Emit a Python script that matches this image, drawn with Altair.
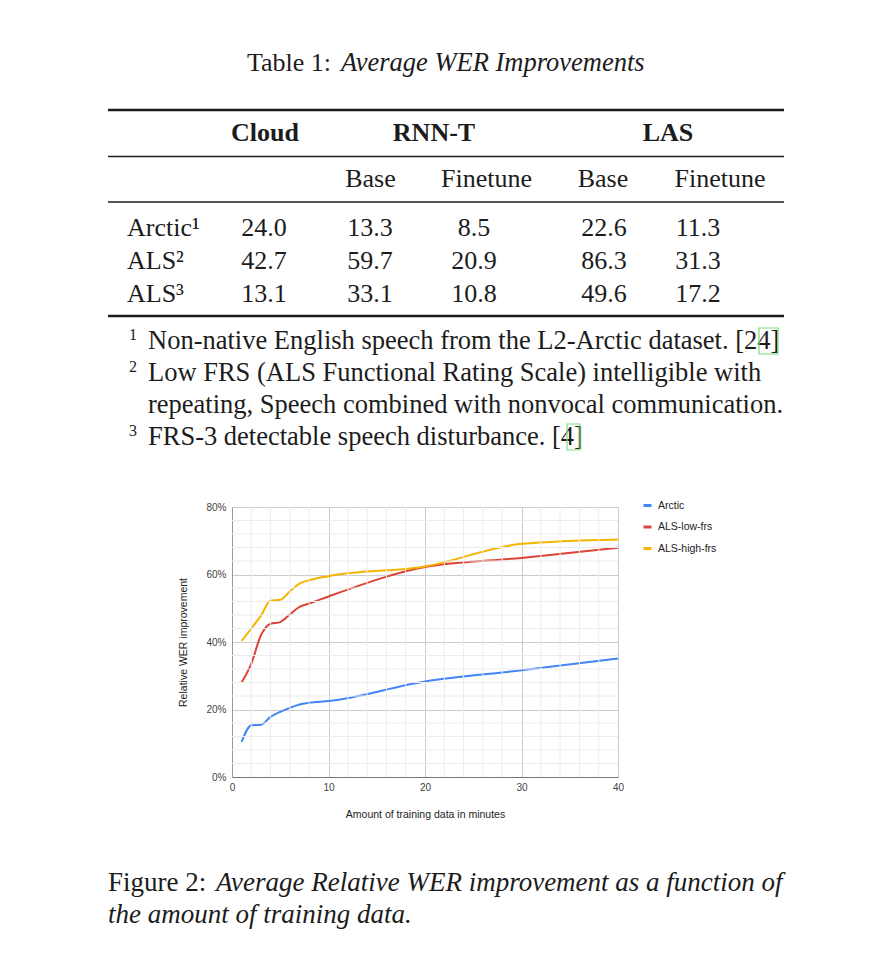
import altair as alt
import pandas as pd

# ---------------- data ----------------
minutes = [1, 2, 3, 4, 5, 6, 7, 8, 10, 20, 30, 40]
arctic = [10.4, 15.3, 15.5, 17.8, 19.3, 20.5, 21.5, 22.0, 22.5, 28.3, 31.6, 35.1]
als_low = [28.0, 33.6, 42.0, 45.4, 45.9, 48.2, 50.4, 51.4, 53.5, 62.2, 64.9, 67.9]
als_high = [40.3, 44.0, 47.8, 52.3, 52.5, 55.0, 57.3, 58.3, 59.5, 62.4, 69.1, 70.4]
series = ["Arctic", "ALS-low-frs", "ALS-high-frs"]
colors = ["#4285F4", "#DB4437", "#F4B400"]

x_ticks = [0, 10, 20, 30, 40]
x_minor = [2, 4, 6, 8, 12, 14, 16, 18, 22, 24, 26, 28, 32, 34, 36, 38]
y_ticks = [0, 20, 40, 60, 80]
y_minor = [4, 8, 12, 16, 24, 28, 32, 36, 44, 48, 52, 56, 64, 68, 72, 76]

table_title_a = "Table 1:"
table_title_b = "Average WER Improvements"
group_headers = ["Cloud", "RNN-T", "LAS"]
sub_headers = ["Base", "Finetune", "Base", "Finetune"]
row_labels = ["Arctic\u00b9", "ALS\u00b2", "ALS\u00b3"]
cloud = [24.0, 42.7, 13.1]
rnnt_base = [13.3, 59.7, 33.1]
rnnt_ft = [8.5, 20.9, 10.8]
las_base = [22.6, 86.3, 49.6]
las_ft = [11.3, 31.3, 17.2]

footnote_marks = ["1", "2", "", "3"]
footnote_lines = [
    "Non-native English speech from the L2-Arctic dataset. [24]",
    "Low FRS (ALS Functional Rating Scale) intelligible with",
    "repeating, Speech combined with nonvocal communication.",
    "FRS-3 detectable speech disturbance. [4]",
]
caption_a = "Figure 2:"
caption_b = "Average Relative WER improvement as a function of"
caption_c = "the amount of training data."

x_title = "Amount of training data in minutes"
y_title = "Relative WER improvement"

# ---------------- layout ----------------
W, H = 386, 270
LEFT, TOP = 232, 507
SERIF = "Liberation Serif"
SANS = "Liberation Sans"
INK = "#1c1c1c"


def X(px):
    return px - LEFT


def Y(py):
    return py - TOP


one = pd.DataFrame({"k": [0]})


def label(text, x, y, size=26, align="left", style="normal", weight="normal"):
    return alt.Chart(one).mark_text(
        text=text, align=align, baseline="alphabetic", font=SERIF,
        fontSize=size, fontStyle=style, fontWeight=weight, color=INK,
    ).encode(x=alt.value(X(x)), y=alt.value(Y(y)))


def hrule(y, w):
    return alt.Chart(one).mark_rule(color=INK, strokeWidth=w).encode(
        x=alt.value(X(108)), x2=alt.value(X(784)), y=alt.value(Y(y))
    )


# ---------------- line chart ----------------
long = pd.DataFrame({
    "minutes": minutes * 3,
    "value": arctic + als_low + als_high,
    "series": [series[0]] * len(minutes) + [series[1]] * len(minutes) + [series[2]] * len(minutes),
})

xs = alt.Scale(domain=[0, 40], nice=False, zero=False)
ys = alt.Scale(domain=[0, 80], nice=False)

lines = alt.Chart(long).mark_line(interpolate="monotone", strokeWidth=2).encode(
    x=alt.X("minutes:Q", scale=xs, axis=alt.Axis(
        values=x_ticks, format="d", orient="bottom", grid=True, gridColor="#cccccc",
        domainColor="#777777", ticks=False, labelFont=SANS, labelFontSize=10,
        labelColor="#444444", labelPadding=5, labelFlush=False, title=x_title,
        titleFont=SANS, titleFontSize=10.5, titleFontWeight="normal",
        titleColor="#222222", titlePadding=17)),
    y=alt.Y("value:Q", scale=ys, axis=alt.Axis(
        values=y_ticks, labelExpr="datum.value + '%'", orient="left", grid=True,
        gridColor="#cccccc", domainColor="#999999", ticks=False, labelFont=SANS,
        labelFontSize=10, labelColor="#444444", labelPadding=6, labelFlush=False,
        title=y_title, titleFont=SANS, titleFontSize=10.5, titleFontWeight="normal",
        titleColor="#222222", titlePadding=17)),
    color=alt.Color("series:N", scale=alt.Scale(domain=series, range=colors),
                    legend=alt.Legend(title=None, orient="none", legendX=410, legendY=-7,
                                      symbolType="stroke", symbolSize=64, symbolStrokeWidth=3,
                                      labelFont=SANS, labelFontSize=10.5, labelColor="#222222",
                                      labelOffset=5, rowPadding=8.5, padding=0, labelLimit=200)),
    detail="series:N",
)

vminor = alt.Chart(pd.DataFrame({"minutes": x_minor})).mark_rule(
    color="#ececec", strokeWidth=1
).encode(x=alt.X("minutes:Q", scale=xs, axis=None))
hminor = alt.Chart(pd.DataFrame({"value": y_minor})).mark_rule(
    color="#ececec", strokeWidth=1
).encode(y=alt.Y("value:Q", scale=ys, axis=None))

# ---------------- table ----------------
tbl = pd.DataFrame({
    "row": [0, 1, 2], "label": row_labels, "cloud": cloud, "rnnt_base": rnnt_base,
    "rnnt_ft": rnnt_ft, "las_base": las_base, "las_ft": las_ft,
})
row_scale = alt.Scale(domain=[0, 2], range=[Y(236), Y(302)])
col_fields = ["cloud", "rnnt_base", "rnnt_ft", "las_base", "las_ft"]
col_centers = [264, 370, 474, 604, 698]

table_layers = [
    alt.Chart(tbl).mark_text(align="left", baseline="alphabetic", font=SERIF,
                             fontSize=26, color=INK).encode(
        x=alt.value(X(127)), y=alt.Y("row:Q", scale=row_scale, axis=None), text="label:N")
]
for f, cx in zip(col_fields, col_centers):
    table_layers.append(
        alt.Chart(tbl).mark_text(align="center", baseline="alphabetic", font=SERIF,
                                 fontSize=26, color=INK).encode(
            x=alt.value(X(cx)), y=alt.Y("row:Q", scale=row_scale, axis=None),
            text=alt.Text(f"{f}:Q", format=".1f"))
    )

header_layers = [
    label(table_title_a, 247, 71),
    label(table_title_b, 341, 71, size=26.5, style="italic"),
]
for t, cx in zip(group_headers, [265, 434, 668]):
    header_layers.append(label(t, cx, 141, align="center", weight="bold"))
for t, cx in zip(sub_headers, [370.5, 486.5, 603, 720]):
    header_layers.append(label(t, cx, 187, align="center"))

rules = [hrule(110, 2.5), hrule(156.5, 1.3), hrule(202, 1.3), hrule(316, 2.5)]

# ---------------- footnotes ----------------
fn = pd.DataFrame({"i": [0, 1, 2, 3], "mark": footnote_marks, "line": footnote_lines})
fn_scale = alt.Scale(domain=[0, 3], range=[Y(349), Y(445)])
footnote_layers = [
    alt.Chart(fn).mark_text(align="left", baseline="alphabetic", font=SERIF,
                            fontSize=26.5, color=INK).encode(
        x=alt.value(X(148)), y=alt.Y("i:Q", scale=fn_scale, axis=None), text="line:N"),
    alt.Chart(fn).mark_text(align="center", baseline="alphabetic", font=SERIF,
                            fontSize=16, color=INK, dy=-9).encode(
        x=alt.value(X(133)), y=alt.Y("i:Q", scale=fn_scale, axis=None), text="mark:N"),
]

# citation link boxes (green outlines around [24] and [4])
cite_boxes = [
    alt.Chart(one).mark_rect(filled=False, stroke="#7CDB7C", strokeWidth=1.2).encode(
        x=alt.value(X(759)), x2=alt.value(X(778)), y=alt.value(Y(328)), y2=alt.value(Y(354))),
    alt.Chart(one).mark_rect(filled=False, stroke="#7CDB7C", strokeWidth=1.2).encode(
        x=alt.value(X(567)), x2=alt.value(X(580)), y=alt.value(Y(424)), y2=alt.value(Y(450))),
]

# ---------------- caption ----------------
caption = [
    label(caption_a, 108, 891, size=27),
    label(caption_b, 216, 891, size=27, style="italic"),
    label(caption_c, 108, 923, size=27, style="italic"),
]

chart = alt.layer(
    lines, vminor, hminor, *table_layers, *footnote_layers, *header_layers,
    *rules, *cite_boxes, *caption
).resolve_scale(
    x="independent", y="independent"
).properties(
    width=W, height=H,
    padding={"left": LEFT, "top": TOP, "right": 870 - LEFT - W, "bottom": 960 - TOP - H},
    autosize=alt.AutoSizeParams(type="none"),
    background="white",
).configure_view(strokeWidth=0)

chart.save("out.html", embed_options={"renderer": "svg", "actions": False})
